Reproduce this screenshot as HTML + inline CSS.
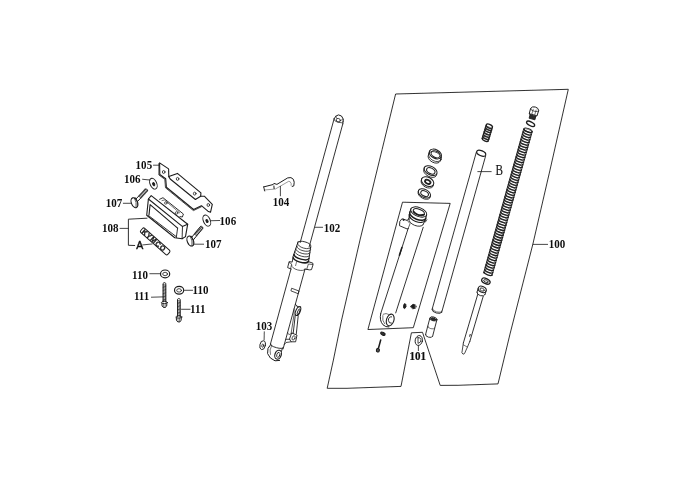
<!DOCTYPE html>
<html><head><meta charset="utf-8"><title>Front fork</title>
<style>html,body{margin:0;padding:0;background:#fff}svg{display:block;will-change:transform}</style></head>
<body><svg width="690" height="490" viewBox="0 0 690 490">
<rect width="690" height="490" fill="#fff"/>
<defs><filter id="soft" x="0" y="0" width="690" height="490" filterUnits="userSpaceOnUse"><feGaussianBlur stdDeviation="0.38"/></filter></defs>
<g stroke-linecap="round" stroke-linejoin="round" filter="url(#soft)">
<path d="M396.0 94.0 L568.3 89.3 L550.0 170.0 L532.9 244.0 L510.0 334.0 L498.0 383.9 L458.0 385.3 L440.2 385.4 L422.5 332.3 L411.4 332.8 L401.0 386.4 L347.0 388.3 L327.2 388.3 L333.4 360.0 L341.6 320.0 L360.0 240.0 L382.0 150.0 Z" stroke="#1c1c1c" stroke-width="0.9" fill="none" />
<path d="M402.9 202.2 L450.2 203.4 L413.3 327.7 L368.3 329.5 Z" stroke="#1c1c1c" stroke-width="0.9" fill="none" />
<line x1="334.1" y1="118.8" x2="300.2" y2="242.5" stroke="#1c1c1c" stroke-width="0.9"/>
<line x1="342.8" y1="123.9" x2="309.1" y2="247.1" stroke="#1c1c1c" stroke-width="0.9"/>
<path d="M334.1 118.8 L335.8 116.2 L338.5 114.9 L341.5 116.0 L343.3 119.3 L342.8 123.9" stroke="#1c1c1c" stroke-width="1.0" fill="none" />
<ellipse cx="338.3" cy="120.2" rx="2.1" ry="1.7" transform="rotate(15.322970211957063 338.3 120.2)" stroke="#1c1c1c" stroke-width="0.8" fill="none"/>
<path d="M333.9 119.0 A5.0 2.4 15.3 0 0 343.5 121.6" stroke="#1c1c1c" stroke-width="0.7" fill="none"/>
<path d="M335.8 116.2 L336.7 118.5" stroke="#1c1c1c" stroke-width="0.6" fill="none" />
<path d="M343.3 119.3 L340.5 120.4" stroke="#1c1c1c" stroke-width="0.6" fill="none" />
<path d="M298.2 241.5 L293.2 256.2" stroke="#1c1c1c" stroke-width="1.0" fill="none" />
<path d="M310.7 246.6 L308.6 261.4" stroke="#1c1c1c" stroke-width="1.0" fill="none" />
<path d="M298.0 242.3 A6.7 2.4 15.3 0 1 310.9 245.8" stroke="#1c1c1c" stroke-width="0.9" fill="none"/>
<path d="M297.8 243.7 A6.8 2.7 15.3 0 0 311.0 247.3" stroke="#1c1c1c" stroke-width="0.8" fill="none"/>
<path d="M296.9 246.3 A7.0 2.7 15.3 0 0 310.5 250.0" stroke="#1c1c1c" stroke-width="0.8" fill="none"/>
<path d="M295.9 248.9 A7.3 2.7 15.3 0 0 310.0 252.8" stroke="#1c1c1c" stroke-width="0.8" fill="none"/>
<path d="M294.9 251.6 A7.5 2.7 15.3 0 0 309.5 255.6" stroke="#1c1c1c" stroke-width="0.8" fill="none"/>
<path d="M294.1 254.5 A7.7 3.0 15.3 0 0 308.9 258.5" stroke="#1c1c1c" stroke-width="1.5" fill="none"/>
<path d="M293.1 257.1 A7.9 3.0 15.3 0 0 308.4 261.3" stroke="#1c1c1c" stroke-width="1.5" fill="none"/>
<path d="M293.0 257.7 L292.2 262.1 L289.2 261.6 L287.6 267.6 L291.0 269.0" stroke="#1c1c1c" stroke-width="0.9" fill="none" />
<path d="M289.2 262.4 L291.7 264.0 L290.6 268.6" stroke="#1c1c1c" stroke-width="0.7" fill="none" />
<path d="M308.5 261.7 L312.8 263.1 L313.0 264.8 L311.5 269.6 L309.7 269.9 L305.1 269.1" stroke="#1c1c1c" stroke-width="0.9" fill="none" />
<path d="M312.7 264.5 L308.4 264.0 L306.8 269.1" stroke="#1c1c1c" stroke-width="0.7" fill="none" />
<path d="M291.7 265.6 A6.9 2.6 15.3 0 0 305.0 269.3" stroke="#1c1c1c" stroke-width="0.7" fill="none"/>
<line x1="296.6" y1="261.8" x2="295.6" y2="265.6" stroke="#1c1c1c" stroke-width="0.6"/>
<line x1="291.0" y1="269.0" x2="270.5" y2="343.8" stroke="#1c1c1c" stroke-width="0.9"/>
<line x1="305.0" y1="269.1" x2="283.1" y2="348.9" stroke="#1c1c1c" stroke-width="0.9"/>
<path d="M292.0 288.4 L299.0 291.0 L298.2 293.7 L291.3 291.0 Z" stroke="#1c1c1c" stroke-width="0.8" fill="none" />
<path d="M295.3 304.4 L297.3 306.1" stroke="#1c1c1c" stroke-width="0.9" fill="none" />
<ellipse cx="298.0" cy="311.1" rx="2.2" ry="4.7" transform="rotate(23.322970211957063 298.0 311.1)" stroke="#1c1c1c" stroke-width="1.0" fill="none"/>
<ellipse cx="298.6" cy="311.7" rx="0.9" ry="3.0" transform="rotate(23.322970211957063 298.6 311.7)" stroke="#1c1c1c" stroke-width="0.9" fill="none"/>
<path d="M297.0 306.5 L300.7 306.7" stroke="#1c1c1c" stroke-width="0.7" fill="none" />
<path d="M295.3 314.9 L293.2 333.4" stroke="#1c1c1c" stroke-width="0.9" fill="none" />
<path d="M298.2 315.9 L296.3 333.9" stroke="#1c1c1c" stroke-width="0.9" fill="none" />
<path d="M294.1 308.8 L293.9 315.6 L291.2 332.9" stroke="#1c1c1c" stroke-width="0.7" fill="none" />
<path d="M292.0 333.1 L297.0 335.1 L295.6 341.8 L291.1 341.8 L289.7 339.3 Z" stroke="#1c1c1c" stroke-width="0.9" fill="none" />
<ellipse cx="293.6" cy="337.9" rx="1.4" ry="2.3" transform="rotate(23.322970211957063 293.6 337.9)" stroke="#1c1c1c" stroke-width="0.7" fill="none"/>
<path d="M289.7 339.3 L285.7 339.3" stroke="#1c1c1c" stroke-width="0.8" fill="none" />
<path d="M291.1 341.8 L286.1 342.5 L284.3 344.5" stroke="#1c1c1c" stroke-width="0.8" fill="none" />
<path d="M292.0 333.1 L288.9 334.7 L287.6 332.5" stroke="#1c1c1c" stroke-width="0.6" fill="none" />
<path d="M270.4 344.2 A6.7 1.9 15.3 0 0 283.3 347.7" stroke="#1c1c1c" stroke-width="0.9" fill="none"/>
<path d="M270.9 344.2 Q266.6 348 267.6 353.6 Q269.5 358.8 275.0 360.8 L279.6 360.4" stroke="#1c1c1c" stroke-width="1.0" fill="none" />
<path d="M271.6 345.6 Q269.0 350.0 270.4 354.4" stroke="#1c1c1c" stroke-width="0.6" fill="none" />
<ellipse cx="278.1" cy="354.7" rx="3.2" ry="4.6" transform="rotate(18 278.1 354.7)" stroke="#1c1c1c" stroke-width="1.1" fill="none"/>
<ellipse cx="278.3" cy="354.9" rx="1.5" ry="2.6" transform="rotate(18 278.3 354.9)" stroke="#1c1c1c" stroke-width="0.8" fill="none"/>
<path d="M282.4 348.0 L281.4 351.6" stroke="#1c1c1c" stroke-width="0.9" fill="none" />
<ellipse cx="262.6" cy="345.2" rx="2.7" ry="4.5" transform="rotate(12 262.6 345.2)" stroke="#1c1c1c" stroke-width="0.9" fill="none"/>
<ellipse cx="262.7" cy="345.6" rx="0.9" ry="1.7" transform="rotate(12 262.7 345.6)" stroke="#1c1c1c" stroke-width="0.7" fill="none"/>
<path d="M263.7 186.9 L273.2 184.5 L273.9 183.4 L276.9 184.4 L287.7 177.9 Q291.3 176.6 293.4 179.3 Q294.8 181.8 293.8 185.9 L292.2 186.4" stroke="#1c1c1c" stroke-width="1.0" fill="none" />
<path d="M264.2 190 L275.4 189 L288.7 181.3 L290.2 181.8 Q291.8 183.5 291.2 185.4" stroke="#555" stroke-width="0.6" fill="none" />
<path d="M263.7 186.9 L264.7 191" stroke="#1c1c1c" stroke-width="0.9" fill="none" />
<line x1="273.9" y1="186.0" x2="274.1" y2="188.6" stroke="#1c1c1c" stroke-width="1.0"/>
<path d="M159.6 162.9 L168.6 168.9 L168.8 176.6 L177.4 173.4 L200.9 192.9 L200.7 196.2 L204.3 196.2 L212.3 204.3 L210.5 212.3 L207.9 211.2 L201.4 205.7 L193.6 209.5 L166.4 187.3 L165.7 178.8 L159.8 174.5 Z" stroke="#1c1c1c" stroke-width="1.1" fill="none" />
<path d="M168.8 176.6 L170.2 179.0 L195.4 199.5 L200.7 196.2" stroke="#1c1c1c" stroke-width="1.1" fill="none" />
<path d="M158.9 163.5 L158.9 175.0 L164.8 179.3 L165.5 187.8 L193.4 210.6 L201.3 206.8" stroke="#1c1c1c" stroke-width="0.8" fill="none" />
<ellipse cx="163.7" cy="172.0" rx="1.3" ry="1.5" transform="rotate(0 163.7 172.0)" stroke="#1c1c1c" stroke-width="0.8" fill="none"/>
<ellipse cx="177.6" cy="178.9" rx="1.3" ry="1.5" transform="rotate(0 177.6 178.9)" stroke="#1c1c1c" stroke-width="0.8" fill="none"/>
<ellipse cx="194.7" cy="193.6" rx="1.3" ry="1.5" transform="rotate(0 194.7 193.6)" stroke="#1c1c1c" stroke-width="0.8" fill="none"/>
<ellipse cx="208.3" cy="205.0" rx="1.3" ry="1.5" transform="rotate(0 208.3 205.0)" stroke="#1c1c1c" stroke-width="0.8" fill="none"/>
<ellipse cx="153.4" cy="183.7" rx="3.3" ry="5.7" transform="rotate(-24 153.4 183.7)" stroke="#1c1c1c" stroke-width="1.0" fill="none"/>
<ellipse cx="153.7" cy="184.2" rx="1.0" ry="1.7" transform="rotate(-24 153.7 184.2)" stroke="#1c1c1c" stroke-width="0.9" fill="#1c1c1c"/>
<ellipse cx="206.8" cy="220.6" rx="3.4" ry="5.8" transform="rotate(-24 206.8 220.6)" stroke="#1c1c1c" stroke-width="1.0" fill="none"/>
<ellipse cx="207.0" cy="221.0" rx="1.0" ry="1.7" transform="rotate(-24 207.0 221.0)" stroke="#1c1c1c" stroke-width="0.9" fill="#1c1c1c"/>
<ellipse cx="134.5" cy="202.7" rx="3.1" ry="5.2" transform="rotate(-22 134.5 202.7)" stroke="#1c1c1c" stroke-width="1.1" fill="none"/>
<path d="M135.5 197.7 Q138.4 202.1 137.5 206.7" stroke="#1c1c1c" stroke-width="0.8" fill="none"/>
<path d="M134.3 197.7 Q137.0 202.3 136.1 207.5" stroke="#1c1c1c" stroke-width="0.7" fill="none"/>
<path d="M135.9 199.1 L145.4 188.9 L146.4 188.9 L147.4 189.9 L147.6 190.8 L137.7 201.3" stroke="#1c1c1c" stroke-width="1.0" fill="none" />
<line x1="138.7" y1="196.2" x2="141.1" y2="197.7" stroke="#1c1c1c" stroke-width="0.8"/>
<line x1="139.6" y1="195.2" x2="142.0" y2="196.7" stroke="#1c1c1c" stroke-width="0.8"/>
<line x1="140.5" y1="194.2" x2="142.9" y2="195.7" stroke="#1c1c1c" stroke-width="0.8"/>
<line x1="141.4" y1="193.2" x2="143.8" y2="194.7" stroke="#1c1c1c" stroke-width="0.8"/>
<line x1="142.4" y1="192.2" x2="144.8" y2="193.8" stroke="#1c1c1c" stroke-width="0.8"/>
<line x1="143.3" y1="191.2" x2="145.7" y2="192.8" stroke="#1c1c1c" stroke-width="0.8"/>
<line x1="144.2" y1="190.2" x2="146.6" y2="191.8" stroke="#1c1c1c" stroke-width="0.8"/>
<line x1="145.1" y1="189.2" x2="147.5" y2="190.8" stroke="#1c1c1c" stroke-width="0.8"/>
<ellipse cx="190.4" cy="241.1" rx="3.1" ry="5.2" transform="rotate(-22 190.4 241.1)" stroke="#1c1c1c" stroke-width="1.1" fill="none"/>
<path d="M191.4 236.1 Q194.3 240.5 193.4 245.1" stroke="#1c1c1c" stroke-width="0.8" fill="none"/>
<path d="M190.2 236.1 Q192.9 240.7 192.0 245.9" stroke="#1c1c1c" stroke-width="0.7" fill="none"/>
<path d="M191.6 237.4 L200.7 226.3 L201.7 226.4 L202.7 227.2 L202.9 228.2 L193.6 239.6" stroke="#1c1c1c" stroke-width="1.0" fill="none" />
<line x1="194.3" y1="234.2" x2="196.8" y2="235.6" stroke="#1c1c1c" stroke-width="0.8"/>
<line x1="195.1" y1="233.2" x2="197.6" y2="234.6" stroke="#1c1c1c" stroke-width="0.8"/>
<line x1="196.0" y1="232.1" x2="198.5" y2="233.5" stroke="#1c1c1c" stroke-width="0.8"/>
<line x1="196.9" y1="231.1" x2="199.3" y2="232.5" stroke="#1c1c1c" stroke-width="0.8"/>
<line x1="197.7" y1="230.0" x2="200.2" y2="231.4" stroke="#1c1c1c" stroke-width="0.8"/>
<line x1="198.6" y1="229.0" x2="201.1" y2="230.4" stroke="#1c1c1c" stroke-width="0.8"/>
<line x1="199.4" y1="228.0" x2="201.9" y2="229.4" stroke="#1c1c1c" stroke-width="0.8"/>
<line x1="200.3" y1="226.9" x2="202.8" y2="228.3" stroke="#1c1c1c" stroke-width="0.8"/>
<path d="M151.2 195.6 L187.7 224.2 L185.5 236.6 L182.1 238.8 L174.8 237.7 L146.7 215.3 L148.4 199.0 Z" stroke="#1c1c1c" stroke-width="1.1" fill="none" />
<path d="M148.4 199.0 L182.3 226.4 L187.7 224.2" stroke="#1c1c1c" stroke-width="1.1" fill="none" />
<path d="M149.0 215.0 L150.1 204.6 L177.6 228.2" stroke="#1c1c1c" stroke-width="1.1" fill="none" />
<path d="M148.6 215.6 L175.8 236.3" stroke="#1c1c1c" stroke-width="0.9" fill="none" />
<line x1="177.6" y1="228.2" x2="176.3" y2="237.6" stroke="#1c1c1c" stroke-width="0.9"/>
<line x1="182.5" y1="226.6" x2="182.1" y2="238.8" stroke="#1c1c1c" stroke-width="0.9"/>
<path d="M159.6 199.3 L163.0 197.7 L183.4 214.0 L182.4 217.0 L180.0 216.6" stroke="#1c1c1c" stroke-width="0.9" fill="none" />
<path d="M162.0 200.6 L164.4 200.0 L179.6 212.8" stroke="#1c1c1c" stroke-width="0.6" fill="none" />
<ellipse cx="165.8" cy="203.0" rx="1.3" ry="1.2" transform="rotate(0 165.8 203.0)" stroke="#1c1c1c" stroke-width="0.7" fill="none"/>
<ellipse cx="176.6" cy="212.9" rx="1.3" ry="1.2" transform="rotate(0 176.6 212.9)" stroke="#1c1c1c" stroke-width="0.7" fill="none"/>
<g transform="translate(141.7,229.5) rotate(41.5)">
<rect x="0" y="-2.85" width="36" height="5.7" rx="1.5" fill="none" stroke="#1c1c1c" stroke-width="1.0"/>
<text x="1.6" y="2.5" font-family="Liberation Sans" font-weight="bold" font-size="7" letter-spacing="0.75" fill="#1a1a1a" stroke="#1a1a1a" stroke-width="0.3">KYMCO</text>
</g>
<ellipse cx="165.1" cy="273.9" rx="4.6" ry="3.9" transform="rotate(0 165.1 273.9)" stroke="#1c1c1c" stroke-width="1.2" fill="none"/>
<ellipse cx="165.1" cy="274.0" rx="2.4" ry="1.7" transform="rotate(0 165.1 274.0)" stroke="#1c1c1c" stroke-width="0.8" fill="none"/>
<ellipse cx="179.1" cy="290.3" rx="4.6" ry="3.9" transform="rotate(0 179.1 290.3)" stroke="#1c1c1c" stroke-width="1.2" fill="none"/>
<ellipse cx="179.1" cy="290.4" rx="2.4" ry="1.7" transform="rotate(0 179.1 290.4)" stroke="#1c1c1c" stroke-width="0.8" fill="none"/>
<path d="M163.1 301.9 L163.1 283.4 L163.9 282.7 L164.9 282.7 L165.8 283.4 L165.8 301.9" stroke="#1c1c1c" stroke-width="0.95" fill="none" />
<line x1="163.1" y1="284.7" x2="165.8" y2="285.2" stroke="#1c1c1c" stroke-width="0.75"/>
<line x1="163.1" y1="286.1" x2="165.8" y2="286.6" stroke="#1c1c1c" stroke-width="0.75"/>
<line x1="163.1" y1="287.6" x2="165.8" y2="288.1" stroke="#1c1c1c" stroke-width="0.75"/>
<line x1="163.1" y1="289.0" x2="165.8" y2="289.5" stroke="#1c1c1c" stroke-width="0.75"/>
<line x1="163.1" y1="290.5" x2="165.8" y2="291.0" stroke="#1c1c1c" stroke-width="0.75"/>
<line x1="163.1" y1="291.9" x2="165.8" y2="292.4" stroke="#1c1c1c" stroke-width="0.75"/>
<line x1="163.1" y1="293.4" x2="165.8" y2="293.9" stroke="#1c1c1c" stroke-width="0.75"/>
<line x1="163.1" y1="294.8" x2="165.8" y2="295.3" stroke="#1c1c1c" stroke-width="0.75"/>
<line x1="163.1" y1="296.3" x2="165.8" y2="296.8" stroke="#1c1c1c" stroke-width="0.75"/>
<line x1="163.1" y1="297.7" x2="165.8" y2="298.2" stroke="#1c1c1c" stroke-width="0.75"/>
<line x1="163.1" y1="299.2" x2="165.8" y2="299.7" stroke="#1c1c1c" stroke-width="0.75"/>
<line x1="163.1" y1="300.6" x2="165.8" y2="301.1" stroke="#1c1c1c" stroke-width="0.75"/>
<ellipse cx="164.4" cy="302.5" rx="3.0" ry="1.1" transform="rotate(0 164.4 302.5)" stroke="#1c1c1c" stroke-width="0.9" fill="none"/>
<path d="M161.9 303.1 L162.1 306.1 L163.5 307.4 L165.3 307.4 L166.7 306.1 L166.9 303.1" stroke="#1c1c1c" stroke-width="1.0" fill="none" />
<line x1="163.6" y1="303.6" x2="163.6" y2="307.1" stroke="#1c1c1c" stroke-width="0.6"/>
<line x1="165.2" y1="303.6" x2="165.2" y2="307.1" stroke="#1c1c1c" stroke-width="0.6"/>
<path d="M177.5 316.4 L177.5 299.3 L178.3 298.6 L179.3 298.6 L180.2 299.3 L180.2 316.4" stroke="#1c1c1c" stroke-width="0.95" fill="none" />
<line x1="177.5" y1="300.6" x2="180.2" y2="301.1" stroke="#1c1c1c" stroke-width="0.75"/>
<line x1="177.5" y1="302.1" x2="180.2" y2="302.6" stroke="#1c1c1c" stroke-width="0.75"/>
<line x1="177.5" y1="303.5" x2="180.2" y2="304.0" stroke="#1c1c1c" stroke-width="0.75"/>
<line x1="177.5" y1="304.9" x2="180.2" y2="305.4" stroke="#1c1c1c" stroke-width="0.75"/>
<line x1="177.5" y1="306.4" x2="180.2" y2="306.9" stroke="#1c1c1c" stroke-width="0.75"/>
<line x1="177.5" y1="307.8" x2="180.2" y2="308.3" stroke="#1c1c1c" stroke-width="0.75"/>
<line x1="177.5" y1="309.3" x2="180.2" y2="309.8" stroke="#1c1c1c" stroke-width="0.75"/>
<line x1="177.5" y1="310.7" x2="180.2" y2="311.2" stroke="#1c1c1c" stroke-width="0.75"/>
<line x1="177.5" y1="312.2" x2="180.2" y2="312.7" stroke="#1c1c1c" stroke-width="0.75"/>
<line x1="177.5" y1="313.6" x2="180.2" y2="314.1" stroke="#1c1c1c" stroke-width="0.75"/>
<line x1="177.5" y1="315.1" x2="180.2" y2="315.6" stroke="#1c1c1c" stroke-width="0.75"/>
<ellipse cx="178.8" cy="317.0" rx="3.0" ry="1.1" transform="rotate(0 178.8 317.0)" stroke="#1c1c1c" stroke-width="0.9" fill="none"/>
<path d="M176.3 317.6 L176.5 320.6 L177.9 321.9 L179.7 321.9 L181.1 320.6 L181.3 317.6" stroke="#1c1c1c" stroke-width="1.0" fill="none" />
<line x1="178.0" y1="318.1" x2="178.0" y2="321.6" stroke="#1c1c1c" stroke-width="0.6"/>
<line x1="179.6" y1="318.1" x2="179.6" y2="321.6" stroke="#1c1c1c" stroke-width="0.6"/>
<ellipse cx="418.7" cy="212.0" rx="8.5" ry="4.4" transform="rotate(21.376251248826186 418.7 212.0)" stroke="#1c1c1c" stroke-width="1.0" fill="none"/>
<ellipse cx="418.8" cy="212.2" rx="5.9" ry="2.9" transform="rotate(21.376251248826186 418.8 212.2)" stroke="#1c1c1c" stroke-width="1.0" fill="none"/>
<path d="M413.6 211.4 Q417.6 216.4 424.2 214.6" stroke="#1c1c1c" stroke-width="1.6" fill="none"/>
<path d="M410.8 208.9 A8.5 4.4 21.4 0 0 426.6 215.1" stroke="#1c1c1c" stroke-width="0.1" fill="none"/>
<path d="M409.8 212.0 A8.6 4.4 21.4 0 0 425.9 218.2" stroke="#1c1c1c" stroke-width="1.5" fill="none"/>
<path d="M409.3 214.7 A8.4 4.3 21.4 0 0 424.9 220.8" stroke="#1c1c1c" stroke-width="1.2" fill="none"/>
<path d="M408.9 219.3 A7.6 3.9 21.4 0 0 423.0 224.8" stroke="#1c1c1c" stroke-width="0.9" fill="none"/>
<line x1="410.8" y1="208.9" x2="409.3" y2="214.7" stroke="#1c1c1c" stroke-width="1.0"/>
<line x1="426.6" y1="215.1" x2="424.9" y2="220.8" stroke="#1c1c1c" stroke-width="1.0"/>
<line x1="409.3" y1="214.7" x2="408.9" y2="219.3" stroke="#1c1c1c" stroke-width="0.9"/>
<line x1="424.9" y1="220.8" x2="423.0" y2="224.8" stroke="#1c1c1c" stroke-width="0.9"/>
<path d="M425.4 222.0 L426.9 219.6" stroke="#1c1c1c" stroke-width="0.8" fill="none" />
<path d="M409.6 217.6 L407.2 220.4 L401.9 218.8 L399.8 221.5 L399.5 225.7 L407.2 229.0 L408.1 228.6" stroke="#1c1c1c" stroke-width="0.9" fill="none" />
<path d="M407.2 220.4 L410.1 223.7 L408.1 228.6" stroke="#1c1c1c" stroke-width="0.7" fill="none" />
<ellipse cx="403.5" cy="219.8" rx="0.7" ry="0.6" transform="rotate(0 403.5 219.8)" stroke="#1c1c1c" stroke-width="0.9" fill="#1c1c1c"/>
<line x1="408.1" y1="228.6" x2="380.7" y2="313.6" stroke="#1c1c1c" stroke-width="0.9"/>
<line x1="423.2" y1="227.3" x2="395.7" y2="312.9" stroke="#1c1c1c" stroke-width="0.9"/>
<line x1="401.9" y1="247.4" x2="399.4" y2="255.2" stroke="#1c1c1c" stroke-width="1.5"/>
<path d="M380.7 313.6 Q379.2 320.5 383.0 324.8 Q385.5 327.2 388.8 327.0" stroke="#1c1c1c" stroke-width="1.0" fill="none" />
<path d="M382.8 315.6 Q381.8 320.6 384.6 323.8" stroke="#1c1c1c" stroke-width="0.6" fill="none" />
<ellipse cx="390.2" cy="320.0" rx="3.7" ry="6.0" transform="rotate(18 390.2 320.0)" stroke="#1c1c1c" stroke-width="1.1" fill="none"/>
<path d="M391.6 316.8 Q388.4 316.6 388.4 320.4 Q388.8 323.6 391.4 323.2" stroke="#1c1c1c" stroke-width="0.9" fill="none" />
<path d="M383.2 314.2 Q386.2 312.6 388.8 314.4" stroke="#1c1c1c" stroke-width="0.6" fill="none" />
<ellipse cx="404.7" cy="306.1" rx="1.2" ry="2.5" transform="rotate(8 404.7 306.1)" stroke="#1c1c1c" stroke-width="0.8" fill="#1c1c1c"/>
<path d="M410.6 306.3 L413.0 304.3 L414.4 304.6 L414.4 308.5 L413.0 308.7 Z" stroke="#1c1c1c" stroke-width="0.8" fill="#1c1c1c" />
<ellipse cx="415.0" cy="306.6" rx="1.0" ry="2.1" transform="rotate(0 415.0 306.6)" stroke="#1c1c1c" stroke-width="0.7" fill="none"/>
<ellipse cx="382.9" cy="333.7" rx="2.4" ry="1.3" transform="rotate(25 382.9 333.7)" stroke="#1c1c1c" stroke-width="1.1" fill="#333"/>
<line x1="380.7" y1="340.0" x2="378.6" y2="347.8" stroke="#1c1c1c" stroke-width="1.5"/>
<ellipse cx="377.9" cy="350.2" rx="1.5" ry="1.8" transform="rotate(15 377.9 350.2)" stroke="#1c1c1c" stroke-width="1.1" fill="#555"/>
<ellipse cx="418.8" cy="340.5" rx="3.6" ry="5.0" transform="rotate(12 418.8 340.5)" stroke="#1c1c1c" stroke-width="0.9" fill="none"/>
<path d="M418.0 337.6 L418.0 343.4 Q421.4 342.6 421.0 339.4 Q420.4 337.2 418.0 337.6 Z" stroke="#1c1c1c" stroke-width="0.8" fill="none" />
<ellipse cx="433.4" cy="318.9" rx="3.6" ry="1.9" transform="rotate(14.574216198038739 433.4 318.9)" stroke="#1c1c1c" stroke-width="0.9" fill="none"/>
<ellipse cx="433.3" cy="319.1" rx="2.4" ry="1.1" transform="rotate(14.574216198038739 433.3 319.1)" stroke="#1c1c1c" stroke-width="0.8" fill="#333"/>
<line x1="429.9" y1="318.0" x2="425.6" y2="334.4" stroke="#1c1c1c" stroke-width="0.9"/>
<line x1="436.9" y1="319.8" x2="432.6" y2="336.3" stroke="#1c1c1c" stroke-width="0.9"/>
<path d="M425.6 334.4 A3.6 1.9 14.6 0 0 432.6 336.3" stroke="#1c1c1c" stroke-width="0.9" fill="none"/>
<path d="M427.8 326.2 A3.6 1.9 14.6 0 0 434.7 328.0" stroke="#1c1c1c" stroke-width="0.6" fill="none"/>
<ellipse cx="435.4" cy="154.0" rx="6.6" ry="4.3" transform="rotate(28 435.4 154.0)" stroke="#1c1c1c" stroke-width="1.0" fill="none"/>
<ellipse cx="435.6" cy="154.2" rx="4.8" ry="3.1" transform="rotate(28 435.6 154.2)" stroke="#1c1c1c" stroke-width="1.0" fill="none"/>
<path d="M429.6 150.9 L428.4 155.1 A6.6 4.3 28 0 0 440.1 161.3 L441.2 157.1" stroke="#1c1c1c" stroke-width="0.9" fill="none"/>
<ellipse cx="435.0" cy="156.6" rx="6.9" ry="4.4" transform="rotate(28 435.0 156.6)" stroke="#1c1c1c" stroke-width="0.7" fill="none"/>
<ellipse cx="430.6" cy="170.6" rx="7.0" ry="4.2" transform="rotate(28 430.6 170.6)" stroke="#1c1c1c" stroke-width="1.0" fill="none"/>
<ellipse cx="430.8" cy="170.8" rx="4.5" ry="2.7" transform="rotate(28 430.8 170.8)" stroke="#1c1c1c" stroke-width="1.0" fill="none"/>
<path d="M424.4 167.3 L423.9 169.1 A7.0 4.2 28 0 0 436.3 175.7 L436.8 173.9" stroke="#1c1c1c" stroke-width="0.9" fill="none"/>
<ellipse cx="427.6" cy="181.6" rx="6.6" ry="4.4" transform="rotate(28 427.6 181.6)" stroke="#1c1c1c" stroke-width="1.0" fill="none"/>
<ellipse cx="427.8" cy="181.8" rx="3.3" ry="2.2" transform="rotate(28 427.8 181.8)" stroke="#1c1c1c" stroke-width="1.0" fill="none"/>
<path d="M421.8 178.5 L421.3 180.3 A6.6 4.4 28 0 0 432.9 186.5 L433.4 184.7" stroke="#1c1c1c" stroke-width="0.9" fill="none"/>
<ellipse cx="427.8" cy="181.9" rx="2.6" ry="1.6" transform="rotate(28 427.8 181.9)" stroke="#1c1c1c" stroke-width="1.2" fill="none"/>
<ellipse cx="424.4" cy="193.4" rx="6.6" ry="4.0" transform="rotate(28 424.4 193.4)" stroke="#1c1c1c" stroke-width="1.0" fill="none"/>
<ellipse cx="424.6" cy="193.6" rx="4.1" ry="2.5" transform="rotate(28 424.6 193.6)" stroke="#1c1c1c" stroke-width="1.0" fill="none"/>
<path d="M418.6 190.3 L418.2 191.8 A6.6 4.0 28 0 0 429.8 198.0 L430.2 196.5" stroke="#1c1c1c" stroke-width="0.9" fill="none"/>
<ellipse cx="481.2" cy="153.2" rx="4.8" ry="2.5" transform="rotate(23.695363009938944 481.2 153.2)" stroke="#1c1c1c" stroke-width="1.2" fill="none"/>
<line x1="476.3" y1="152.3" x2="432.1" y2="309.3" stroke="#1c1c1c" stroke-width="0.9"/>
<line x1="485.6" y1="156.0" x2="441.6" y2="312.6" stroke="#1c1c1c" stroke-width="0.9"/>
<path d="M432.1 309.5 A5.0 2.4 15.7 0 0 441.7 312.2" stroke="#1c1c1c" stroke-width="0.9" fill="none"/>
<path d="M432.4 308.4 A5.0 2.4 15.7 0 0 442.0 311.1" stroke="#1c1c1c" stroke-width="0.6" fill="none"/>
<path d="M523.9 129.1 A4.3 1.5 20.6 0 1 531.9 132.1" stroke="#333" stroke-width="0.6" fill="none"/>
<path d="M523.9 129.1 A4.3 1.5 20.6 0 0 531.9 132.1" stroke="#1c1c1c" stroke-width="1.35" fill="none"/>
<path d="M523.2 131.6 A4.3 1.5 20.6 0 1 531.2 134.6" stroke="#333" stroke-width="0.6" fill="none"/>
<path d="M523.2 131.6 A4.3 1.5 20.6 0 0 531.2 134.6" stroke="#1c1c1c" stroke-width="1.35" fill="none"/>
<path d="M522.5 134.1 A4.3 1.5 20.6 0 1 530.5 137.1" stroke="#333" stroke-width="0.6" fill="none"/>
<path d="M522.5 134.1 A4.3 1.5 20.6 0 0 530.5 137.1" stroke="#1c1c1c" stroke-width="1.35" fill="none"/>
<path d="M521.8 136.6 A4.3 1.5 20.6 0 1 529.8 139.6" stroke="#333" stroke-width="0.6" fill="none"/>
<path d="M521.8 136.6 A4.3 1.5 20.6 0 0 529.8 139.6" stroke="#1c1c1c" stroke-width="1.35" fill="none"/>
<path d="M521.1 139.1 A4.3 1.5 20.6 0 1 529.1 142.1" stroke="#333" stroke-width="0.6" fill="none"/>
<path d="M521.1 139.1 A4.3 1.5 20.6 0 0 529.1 142.1" stroke="#1c1c1c" stroke-width="1.35" fill="none"/>
<path d="M520.4 141.6 A4.3 1.5 20.6 0 1 528.4 144.7" stroke="#333" stroke-width="0.6" fill="none"/>
<path d="M520.4 141.6 A4.3 1.5 20.6 0 0 528.4 144.7" stroke="#1c1c1c" stroke-width="1.35" fill="none"/>
<path d="M519.7 144.1 A4.3 1.5 20.6 0 1 527.7 147.2" stroke="#333" stroke-width="0.6" fill="none"/>
<path d="M519.7 144.1 A4.3 1.5 20.6 0 0 527.7 147.2" stroke="#1c1c1c" stroke-width="1.35" fill="none"/>
<path d="M519.0 146.7 A4.3 1.5 20.6 0 1 527.0 149.7" stroke="#333" stroke-width="0.6" fill="none"/>
<path d="M519.0 146.7 A4.3 1.5 20.6 0 0 527.0 149.7" stroke="#1c1c1c" stroke-width="1.35" fill="none"/>
<path d="M518.3 149.2 A4.3 1.5 20.6 0 1 526.3 152.2" stroke="#333" stroke-width="0.6" fill="none"/>
<path d="M518.3 149.2 A4.3 1.5 20.6 0 0 526.3 152.2" stroke="#1c1c1c" stroke-width="1.35" fill="none"/>
<path d="M517.6 151.7 A4.3 1.5 20.6 0 1 525.6 154.7" stroke="#333" stroke-width="0.6" fill="none"/>
<path d="M517.6 151.7 A4.3 1.5 20.6 0 0 525.6 154.7" stroke="#1c1c1c" stroke-width="1.35" fill="none"/>
<path d="M516.9 154.2 A4.3 1.5 20.6 0 1 524.9 157.2" stroke="#333" stroke-width="0.6" fill="none"/>
<path d="M516.9 154.2 A4.3 1.5 20.6 0 0 524.9 157.2" stroke="#1c1c1c" stroke-width="1.35" fill="none"/>
<path d="M516.2 156.7 A4.3 1.5 20.6 0 1 524.2 159.7" stroke="#333" stroke-width="0.6" fill="none"/>
<path d="M516.2 156.7 A4.3 1.5 20.6 0 0 524.2 159.7" stroke="#1c1c1c" stroke-width="1.35" fill="none"/>
<path d="M515.5 159.2 A4.3 1.5 20.6 0 1 523.5 162.2" stroke="#333" stroke-width="0.6" fill="none"/>
<path d="M515.5 159.2 A4.3 1.5 20.6 0 0 523.5 162.2" stroke="#1c1c1c" stroke-width="1.35" fill="none"/>
<path d="M514.8 161.7 A4.3 1.5 20.6 0 1 522.8 164.7" stroke="#333" stroke-width="0.6" fill="none"/>
<path d="M514.8 161.7 A4.3 1.5 20.6 0 0 522.8 164.7" stroke="#1c1c1c" stroke-width="1.35" fill="none"/>
<path d="M514.1 164.2 A4.3 1.5 20.6 0 1 522.1 167.2" stroke="#333" stroke-width="0.6" fill="none"/>
<path d="M514.1 164.2 A4.3 1.5 20.6 0 0 522.1 167.2" stroke="#1c1c1c" stroke-width="1.35" fill="none"/>
<path d="M513.4 166.7 A4.3 1.5 20.6 0 1 521.4 169.8" stroke="#333" stroke-width="0.6" fill="none"/>
<path d="M513.4 166.7 A4.3 1.5 20.6 0 0 521.4 169.8" stroke="#1c1c1c" stroke-width="1.35" fill="none"/>
<path d="M512.7 169.2 A4.3 1.5 20.6 0 1 520.7 172.3" stroke="#333" stroke-width="0.6" fill="none"/>
<path d="M512.7 169.2 A4.3 1.5 20.6 0 0 520.7 172.3" stroke="#1c1c1c" stroke-width="1.35" fill="none"/>
<path d="M512.0 171.7 A4.3 1.5 20.6 0 1 520.0 174.8" stroke="#333" stroke-width="0.6" fill="none"/>
<path d="M512.0 171.7 A4.3 1.5 20.6 0 0 520.0 174.8" stroke="#1c1c1c" stroke-width="1.35" fill="none"/>
<path d="M511.3 174.3 A4.3 1.5 20.6 0 1 519.3 177.3" stroke="#333" stroke-width="0.6" fill="none"/>
<path d="M511.3 174.3 A4.3 1.5 20.6 0 0 519.3 177.3" stroke="#1c1c1c" stroke-width="1.35" fill="none"/>
<path d="M510.6 176.8 A4.3 1.5 20.6 0 1 518.6 179.8" stroke="#333" stroke-width="0.6" fill="none"/>
<path d="M510.6 176.8 A4.3 1.5 20.6 0 0 518.6 179.8" stroke="#1c1c1c" stroke-width="1.35" fill="none"/>
<path d="M509.9 179.3 A4.3 1.5 20.6 0 1 517.9 182.3" stroke="#333" stroke-width="0.6" fill="none"/>
<path d="M509.9 179.3 A4.3 1.5 20.6 0 0 517.9 182.3" stroke="#1c1c1c" stroke-width="1.35" fill="none"/>
<path d="M509.2 181.8 A4.3 1.5 20.6 0 1 517.2 184.8" stroke="#333" stroke-width="0.6" fill="none"/>
<path d="M509.2 181.8 A4.3 1.5 20.6 0 0 517.2 184.8" stroke="#1c1c1c" stroke-width="1.35" fill="none"/>
<path d="M508.5 184.3 A4.3 1.5 20.6 0 1 516.5 187.3" stroke="#333" stroke-width="0.6" fill="none"/>
<path d="M508.5 184.3 A4.3 1.5 20.6 0 0 516.5 187.3" stroke="#1c1c1c" stroke-width="1.35" fill="none"/>
<path d="M507.8 186.8 A4.3 1.5 20.6 0 1 515.8 189.8" stroke="#333" stroke-width="0.6" fill="none"/>
<path d="M507.8 186.8 A4.3 1.5 20.6 0 0 515.8 189.8" stroke="#1c1c1c" stroke-width="1.35" fill="none"/>
<path d="M507.1 189.3 A4.3 1.5 20.6 0 1 515.1 192.3" stroke="#333" stroke-width="0.6" fill="none"/>
<path d="M507.1 189.3 A4.3 1.5 20.6 0 0 515.1 192.3" stroke="#1c1c1c" stroke-width="1.35" fill="none"/>
<path d="M506.4 191.8 A4.3 1.5 20.6 0 1 514.4 194.8" stroke="#333" stroke-width="0.6" fill="none"/>
<path d="M506.4 191.8 A4.3 1.5 20.6 0 0 514.4 194.8" stroke="#1c1c1c" stroke-width="1.35" fill="none"/>
<path d="M505.7 194.3 A4.3 1.5 20.6 0 1 513.7 197.4" stroke="#333" stroke-width="0.6" fill="none"/>
<path d="M505.7 194.3 A4.3 1.5 20.6 0 0 513.7 197.4" stroke="#1c1c1c" stroke-width="1.35" fill="none"/>
<path d="M505.0 196.8 A4.3 1.5 20.6 0 1 513.0 199.9" stroke="#333" stroke-width="0.6" fill="none"/>
<path d="M505.0 196.8 A4.3 1.5 20.6 0 0 513.0 199.9" stroke="#1c1c1c" stroke-width="1.35" fill="none"/>
<path d="M504.3 199.4 A4.3 1.5 20.6 0 1 512.3 202.4" stroke="#333" stroke-width="0.6" fill="none"/>
<path d="M504.3 199.4 A4.3 1.5 20.6 0 0 512.3 202.4" stroke="#1c1c1c" stroke-width="1.35" fill="none"/>
<path d="M503.6 201.9 A4.3 1.5 20.6 0 1 511.6 204.9" stroke="#333" stroke-width="0.6" fill="none"/>
<path d="M503.6 201.9 A4.3 1.5 20.6 0 0 511.6 204.9" stroke="#1c1c1c" stroke-width="1.35" fill="none"/>
<path d="M502.9 204.4 A4.3 1.5 20.6 0 1 510.9 207.4" stroke="#333" stroke-width="0.6" fill="none"/>
<path d="M502.9 204.4 A4.3 1.5 20.6 0 0 510.9 207.4" stroke="#1c1c1c" stroke-width="1.35" fill="none"/>
<path d="M502.2 206.9 A4.3 1.5 20.6 0 1 510.2 209.9" stroke="#333" stroke-width="0.6" fill="none"/>
<path d="M502.2 206.9 A4.3 1.5 20.6 0 0 510.2 209.9" stroke="#1c1c1c" stroke-width="1.35" fill="none"/>
<path d="M501.5 209.4 A4.3 1.5 20.6 0 1 509.5 212.4" stroke="#333" stroke-width="0.6" fill="none"/>
<path d="M501.5 209.4 A4.3 1.5 20.6 0 0 509.5 212.4" stroke="#1c1c1c" stroke-width="1.35" fill="none"/>
<path d="M500.8 211.9 A4.3 1.5 20.6 0 1 508.8 214.9" stroke="#333" stroke-width="0.6" fill="none"/>
<path d="M500.8 211.9 A4.3 1.5 20.6 0 0 508.8 214.9" stroke="#1c1c1c" stroke-width="1.35" fill="none"/>
<path d="M500.1 214.4 A4.3 1.5 20.6 0 1 508.1 217.4" stroke="#333" stroke-width="0.6" fill="none"/>
<path d="M500.1 214.4 A4.3 1.5 20.6 0 0 508.1 217.4" stroke="#1c1c1c" stroke-width="1.35" fill="none"/>
<path d="M499.4 216.9 A4.3 1.5 20.6 0 1 507.4 219.9" stroke="#333" stroke-width="0.6" fill="none"/>
<path d="M499.4 216.9 A4.3 1.5 20.6 0 0 507.4 219.9" stroke="#1c1c1c" stroke-width="1.35" fill="none"/>
<path d="M498.7 219.4 A4.3 1.5 20.6 0 1 506.7 222.5" stroke="#333" stroke-width="0.6" fill="none"/>
<path d="M498.7 219.4 A4.3 1.5 20.6 0 0 506.7 222.5" stroke="#1c1c1c" stroke-width="1.35" fill="none"/>
<path d="M498.0 221.9 A4.3 1.5 20.6 0 1 506.0 225.0" stroke="#333" stroke-width="0.6" fill="none"/>
<path d="M498.0 221.9 A4.3 1.5 20.6 0 0 506.0 225.0" stroke="#1c1c1c" stroke-width="1.35" fill="none"/>
<path d="M497.3 224.4 A4.3 1.5 20.6 0 1 505.3 227.5" stroke="#333" stroke-width="0.6" fill="none"/>
<path d="M497.3 224.4 A4.3 1.5 20.6 0 0 505.3 227.5" stroke="#1c1c1c" stroke-width="1.35" fill="none"/>
<path d="M496.6 227.0 A4.3 1.5 20.6 0 1 504.6 230.0" stroke="#333" stroke-width="0.6" fill="none"/>
<path d="M496.6 227.0 A4.3 1.5 20.6 0 0 504.6 230.0" stroke="#1c1c1c" stroke-width="1.35" fill="none"/>
<path d="M495.9 229.5 A4.3 1.5 20.6 0 1 503.9 232.5" stroke="#333" stroke-width="0.6" fill="none"/>
<path d="M495.9 229.5 A4.3 1.5 20.6 0 0 503.9 232.5" stroke="#1c1c1c" stroke-width="1.35" fill="none"/>
<path d="M495.2 232.0 A4.3 1.5 20.6 0 1 503.2 235.0" stroke="#333" stroke-width="0.6" fill="none"/>
<path d="M495.2 232.0 A4.3 1.5 20.6 0 0 503.2 235.0" stroke="#1c1c1c" stroke-width="1.35" fill="none"/>
<path d="M494.5 234.5 A4.3 1.5 20.6 0 1 502.5 237.5" stroke="#333" stroke-width="0.6" fill="none"/>
<path d="M494.5 234.5 A4.3 1.5 20.6 0 0 502.5 237.5" stroke="#1c1c1c" stroke-width="1.35" fill="none"/>
<path d="M493.8 237.0 A4.3 1.5 20.6 0 1 501.8 240.0" stroke="#333" stroke-width="0.6" fill="none"/>
<path d="M493.8 237.0 A4.3 1.5 20.6 0 0 501.8 240.0" stroke="#1c1c1c" stroke-width="1.35" fill="none"/>
<path d="M493.1 239.5 A4.3 1.5 20.6 0 1 501.1 242.5" stroke="#333" stroke-width="0.6" fill="none"/>
<path d="M493.1 239.5 A4.3 1.5 20.6 0 0 501.1 242.5" stroke="#1c1c1c" stroke-width="1.35" fill="none"/>
<path d="M492.4 242.0 A4.3 1.5 20.6 0 1 500.4 245.0" stroke="#333" stroke-width="0.6" fill="none"/>
<path d="M492.4 242.0 A4.3 1.5 20.6 0 0 500.4 245.0" stroke="#1c1c1c" stroke-width="1.35" fill="none"/>
<path d="M491.7 244.5 A4.3 1.5 20.6 0 1 499.7 247.5" stroke="#333" stroke-width="0.6" fill="none"/>
<path d="M491.7 244.5 A4.3 1.5 20.6 0 0 499.7 247.5" stroke="#1c1c1c" stroke-width="1.35" fill="none"/>
<path d="M491.0 247.0 A4.3 1.5 20.6 0 1 499.0 250.1" stroke="#333" stroke-width="0.6" fill="none"/>
<path d="M491.0 247.0 A4.3 1.5 20.6 0 0 499.0 250.1" stroke="#1c1c1c" stroke-width="1.35" fill="none"/>
<path d="M490.3 249.5 A4.3 1.5 20.6 0 1 498.3 252.6" stroke="#333" stroke-width="0.6" fill="none"/>
<path d="M490.3 249.5 A4.3 1.5 20.6 0 0 498.3 252.6" stroke="#1c1c1c" stroke-width="1.35" fill="none"/>
<path d="M489.6 252.0 A4.3 1.5 20.6 0 1 497.6 255.1" stroke="#333" stroke-width="0.6" fill="none"/>
<path d="M489.6 252.0 A4.3 1.5 20.6 0 0 497.6 255.1" stroke="#1c1c1c" stroke-width="1.35" fill="none"/>
<path d="M488.9 254.6 A4.3 1.5 20.6 0 1 496.9 257.6" stroke="#333" stroke-width="0.6" fill="none"/>
<path d="M488.9 254.6 A4.3 1.5 20.6 0 0 496.9 257.6" stroke="#1c1c1c" stroke-width="1.35" fill="none"/>
<path d="M488.2 257.1 A4.3 1.5 20.6 0 1 496.2 260.1" stroke="#333" stroke-width="0.6" fill="none"/>
<path d="M488.2 257.1 A4.3 1.5 20.6 0 0 496.2 260.1" stroke="#1c1c1c" stroke-width="1.35" fill="none"/>
<path d="M487.5 259.6 A4.3 1.5 20.6 0 1 495.5 262.6" stroke="#333" stroke-width="0.6" fill="none"/>
<path d="M487.5 259.6 A4.3 1.5 20.6 0 0 495.5 262.6" stroke="#1c1c1c" stroke-width="1.35" fill="none"/>
<path d="M486.8 262.1 A4.3 1.5 20.6 0 1 494.8 265.1" stroke="#333" stroke-width="0.6" fill="none"/>
<path d="M486.8 262.1 A4.3 1.5 20.6 0 0 494.8 265.1" stroke="#1c1c1c" stroke-width="1.35" fill="none"/>
<path d="M486.1 264.6 A4.3 1.5 20.6 0 1 494.1 267.6" stroke="#333" stroke-width="0.6" fill="none"/>
<path d="M486.1 264.6 A4.3 1.5 20.6 0 0 494.1 267.6" stroke="#1c1c1c" stroke-width="1.35" fill="none"/>
<path d="M485.4 267.1 A4.3 1.5 20.6 0 1 493.4 270.1" stroke="#333" stroke-width="0.6" fill="none"/>
<path d="M485.4 267.1 A4.3 1.5 20.6 0 0 493.4 270.1" stroke="#1c1c1c" stroke-width="1.35" fill="none"/>
<path d="M484.7 269.6 A4.3 1.5 20.6 0 1 492.7 272.6" stroke="#333" stroke-width="0.6" fill="none"/>
<path d="M484.7 269.6 A4.3 1.5 20.6 0 0 492.7 272.6" stroke="#1c1c1c" stroke-width="1.35" fill="none"/>
<path d="M484.0 272.1 A4.3 1.5 20.6 0 1 492.0 275.1" stroke="#333" stroke-width="0.6" fill="none"/>
<path d="M484.0 272.1 A4.3 1.5 20.6 0 0 492.0 275.1" stroke="#1c1c1c" stroke-width="1.35" fill="none"/>
<line x1="523.7" y1="128.9" x2="483.6" y2="272.9" stroke="#1c1c1c" stroke-width="0.9"/>
<line x1="532.3" y1="131.3" x2="492.1" y2="275.3" stroke="#1c1c1c" stroke-width="0.9"/>
<ellipse cx="528.0" cy="130.2" rx="4.3" ry="1.7" transform="rotate(20.58910231455117 528.0 130.2)" stroke="#1c1c1c" stroke-width="0.9" fill="none"/>
<ellipse cx="489.3" cy="126.2" rx="3.3" ry="1.8" transform="rotate(24.69924423399362 489.3 126.2)" stroke="#1c1c1c" stroke-width="1.3" fill="none"/>
<path d="M485.6 127.1 A3.3 1.6 24.7 0 1 491.6 129.8" stroke="#333" stroke-width="0.7" fill="none"/>
<path d="M485.6 127.1 A3.3 1.6 24.7 0 0 491.6 129.8" stroke="#1c1c1c" stroke-width="1.45" fill="none"/>
<path d="M485.0 129.3 A3.3 1.6 24.7 0 1 490.9 132.1" stroke="#333" stroke-width="0.7" fill="none"/>
<path d="M485.0 129.3 A3.3 1.6 24.7 0 0 490.9 132.1" stroke="#1c1c1c" stroke-width="1.45" fill="none"/>
<path d="M484.3 131.6 A3.3 1.6 24.7 0 1 490.3 134.3" stroke="#333" stroke-width="0.7" fill="none"/>
<path d="M484.3 131.6 A3.3 1.6 24.7 0 0 490.3 134.3" stroke="#1c1c1c" stroke-width="1.45" fill="none"/>
<path d="M483.6 133.8 A3.3 1.6 24.7 0 1 489.6 136.6" stroke="#333" stroke-width="0.7" fill="none"/>
<path d="M483.6 133.8 A3.3 1.6 24.7 0 0 489.6 136.6" stroke="#1c1c1c" stroke-width="1.45" fill="none"/>
<path d="M482.9 136.1 A3.3 1.6 24.7 0 1 488.9 138.8" stroke="#333" stroke-width="0.7" fill="none"/>
<path d="M482.9 136.1 A3.3 1.6 24.7 0 0 488.9 138.8" stroke="#1c1c1c" stroke-width="1.45" fill="none"/>
<path d="M482.3 138.3 A3.3 1.6 24.7 0 1 488.2 141.1" stroke="#333" stroke-width="0.7" fill="none"/>
<path d="M482.3 138.3 A3.3 1.6 24.7 0 0 488.2 141.1" stroke="#1c1c1c" stroke-width="1.45" fill="none"/>
<line x1="486.0" y1="125.2" x2="482.0" y2="138.7" stroke="#1c1c1c" stroke-width="0.9"/>
<line x1="492.6" y1="127.2" x2="488.5" y2="140.7" stroke="#1c1c1c" stroke-width="0.9"/>
<path d="M529.3 113.5 L530.6 108.4 L532.6 106.9 L535.3 107.0 L537.7 108.3 L538.7 110.6 L537.0 115.7" stroke="#1c1c1c" stroke-width="1.0" fill="none" />
<path d="M529.3 113.5 A4.0 1.6 15.6 0 0 537.0 115.7" stroke="#1c1c1c" stroke-width="1.0" fill="none"/>
<path d="M530.6 108.6 A4.1 1.6 15.6 0 0 538.5 110.8" stroke="#1c1c1c" stroke-width="0.7" fill="none"/>
<line x1="533.2" y1="109.3" x2="531.8" y2="114.3" stroke="#1c1c1c" stroke-width="0.6"/>
<line x1="536.1" y1="110.1" x2="534.6" y2="115.3" stroke="#1c1c1c" stroke-width="0.6"/>
<path d="M530.2 114.3 L529.1 118.2 L534.9 119.8 L535.9 115.9 Z" stroke="#1c1c1c" stroke-width="0.9" fill="#2a2a2a" />
<ellipse cx="530.6" cy="123.8" rx="4.4" ry="1.9" transform="rotate(27.58910231455117 530.6 123.8)" stroke="#1c1c1c" stroke-width="1.35" fill="none"/>
<ellipse cx="485.9" cy="281.1" rx="4.5" ry="2.5" transform="rotate(25.58910231455117 485.9 281.1)" stroke="#1c1c1c" stroke-width="1.3" fill="none"/>
<ellipse cx="485.9" cy="281.1" rx="2.4" ry="1.1" transform="rotate(25.58910231455117 485.9 281.1)" stroke="#1c1c1c" stroke-width="0.8" fill="none"/>
<ellipse cx="482.2" cy="289.4" rx="4.2" ry="2.9" transform="rotate(24.488753705891256 482.2 289.4)" stroke="#1c1c1c" stroke-width="1.0" fill="none"/>
<ellipse cx="482.1" cy="289.6" rx="2.3" ry="1.4" transform="rotate(24.488753705891256 482.1 289.6)" stroke="#1c1c1c" stroke-width="0.8" fill="none"/>
<line x1="478.2" y1="288.2" x2="477.0" y2="292.2" stroke="#1c1c1c" stroke-width="0.9"/>
<line x1="486.2" y1="290.6" x2="485.0" y2="294.6" stroke="#1c1c1c" stroke-width="0.9"/>
<path d="M477.0 292.2 A4.2 2.6 16.5 0 0 485.0 294.6" stroke="#1c1c1c" stroke-width="0.9" fill="none"/>
<line x1="477.7" y1="294.5" x2="463.4" y2="342.8" stroke="#1c1c1c" stroke-width="0.9"/>
<line x1="483.2" y1="296.4" x2="469.8" y2="341.5" stroke="#1c1c1c" stroke-width="0.9"/>
<path d="M463.4 342.8 L461.9 352.7 L463.0 354.2 L464.5 353.6 L467.4 347.1 L469.8 341.5" stroke="#1c1c1c" stroke-width="0.8" fill="none" />
<line x1="463.3" y1="344.8" x2="467.4" y2="347.1" stroke="#1c1c1c" stroke-width="0.6"/>
<line x1="470.2" y1="334.4" x2="469.7" y2="336.3" stroke="#1c1c1c" stroke-width="1.0"/>
<text transform="translate(548.7,248.0) scale(0.92,1)" font-family="Liberation Serif" font-size="12" font-weight="bold" text-anchor="start" fill="#111" stroke="#111" stroke-width="0">100</text>
<line x1="533.2" y1="244.4" x2="547.6" y2="244.4" stroke="#1c1c1c" stroke-width="0.8"/>
<text transform="translate(409.5,359.5) scale(0.92,1)" font-family="Liberation Serif" font-size="12" font-weight="bold" text-anchor="start" fill="#111" stroke="#111" stroke-width="0.2">101</text>
<line x1="418.4" y1="346.0" x2="418.4" y2="350.6" stroke="#1c1c1c" stroke-width="0.8"/>
<text transform="translate(323.8,231.7) scale(0.92,1)" font-family="Liberation Serif" font-size="12" font-weight="bold" text-anchor="start" fill="#111" stroke="#111" stroke-width="0">102</text>
<line x1="315.4" y1="227.3" x2="322.6" y2="227.3" stroke="#1c1c1c" stroke-width="0.8"/>
<text transform="translate(255.8,330.2) scale(0.92,1)" font-family="Liberation Serif" font-size="12" font-weight="bold" text-anchor="start" fill="#111" stroke="#111" stroke-width="0">103</text>
<line x1="264.3" y1="331.8" x2="264.1" y2="340.0" stroke="#1c1c1c" stroke-width="0.8"/>
<text transform="translate(272.8,205.7) scale(0.92,1)" font-family="Liberation Serif" font-size="12" font-weight="bold" text-anchor="start" fill="#111" stroke="#111" stroke-width="0">104</text>
<line x1="280.4" y1="186.4" x2="280.4" y2="195.8" stroke="#1c1c1c" stroke-width="0.8"/>
<text transform="translate(135.6,168.9) scale(0.92,1)" font-family="Liberation Serif" font-size="12" font-weight="bold" text-anchor="start" fill="#111" stroke="#111" stroke-width="0">105</text>
<line x1="153.5" y1="165.2" x2="159.3" y2="165.2" stroke="#1c1c1c" stroke-width="0.8"/>
<text transform="translate(123.9,182.8) scale(0.92,1)" font-family="Liberation Serif" font-size="12" font-weight="bold" text-anchor="start" fill="#111" stroke="#111" stroke-width="0">106</text>
<line x1="142.6" y1="179.3" x2="150.0" y2="180.0" stroke="#1c1c1c" stroke-width="0.8"/>
<text transform="translate(219.6,225.2) scale(0.92,1)" font-family="Liberation Serif" font-size="12" font-weight="bold" text-anchor="start" fill="#111" stroke="#111" stroke-width="0">106</text>
<line x1="211.3" y1="220.7" x2="219.7" y2="220.5" stroke="#1c1c1c" stroke-width="0.8"/>
<text transform="translate(105.7,206.7) scale(0.92,1)" font-family="Liberation Serif" font-size="12" font-weight="bold" text-anchor="start" fill="#111" stroke="#111" stroke-width="0">107</text>
<line x1="123.3" y1="203.3" x2="131.3" y2="203.3" stroke="#1c1c1c" stroke-width="0.8"/>
<text transform="translate(204.9,248.1) scale(0.92,1)" font-family="Liberation Serif" font-size="12" font-weight="bold" text-anchor="start" fill="#111" stroke="#111" stroke-width="0">107</text>
<line x1="194.2" y1="244.2" x2="203.6" y2="244.2" stroke="#1c1c1c" stroke-width="0.8"/>
<text transform="translate(102.0,232.4) scale(0.92,1)" font-family="Liberation Serif" font-size="12" font-weight="bold" text-anchor="start" fill="#111" stroke="#111" stroke-width="0">108</text>
<line x1="120.0" y1="228.4" x2="128.4" y2="228.4" stroke="#1c1c1c" stroke-width="0.8"/>
<text transform="translate(132.0,278.7) scale(0.92,1)" font-family="Liberation Serif" font-size="12" font-weight="bold" text-anchor="start" fill="#111" stroke="#111" stroke-width="0">110</text>
<line x1="149.8" y1="273.7" x2="159.8" y2="273.7" stroke="#1c1c1c" stroke-width="0.8"/>
<text transform="translate(192.5,294.0) scale(0.92,1)" font-family="Liberation Serif" font-size="12" font-weight="bold" text-anchor="start" fill="#111" stroke="#111" stroke-width="0">110</text>
<line x1="184.5" y1="290.3" x2="192.6" y2="290.3" stroke="#1c1c1c" stroke-width="0.8"/>
<text transform="translate(133.9,300.4) scale(0.92,1)" font-family="Liberation Serif" font-size="12" font-weight="bold" text-anchor="start" fill="#111" stroke="#111" stroke-width="0">111</text>
<line x1="151.4" y1="297.2" x2="162.8" y2="296.9" stroke="#1c1c1c" stroke-width="0.8"/>
<text transform="translate(190.1,313.0) scale(0.92,1)" font-family="Liberation Serif" font-size="12" font-weight="bold" text-anchor="start" fill="#111" stroke="#111" stroke-width="0">111</text>
<line x1="181.5" y1="309.3" x2="190.1" y2="309.3" stroke="#1c1c1c" stroke-width="0.8"/>
<text transform="translate(495.6,174.5) scale(0.8,1)" font-family="Liberation Serif" font-size="14" font-weight="normal" text-anchor="start" fill="#111" stroke="#111" stroke-width="0.12">B</text>
<line x1="477.8" y1="171.6" x2="491.2" y2="171.6" stroke="#1c1c1c" stroke-width="0.8"/>
<text transform="translate(136.2,248.6) scale(1.0,1)" font-family="Liberation Sans" font-size="10.5" font-weight="normal" text-anchor="start" fill="#111" stroke="#111" stroke-width="0.45">A</text>
<line x1="142.7" y1="244.9" x2="152.0" y2="244.0" stroke="#1c1c1c" stroke-width="0.8"/>
<path d="M147 218.2 L128.4 219.2 L128.4 245.3 L134.7 245.5" stroke="#1c1c1c" stroke-width="0.9" fill="none" />
</g></svg></body></html>
